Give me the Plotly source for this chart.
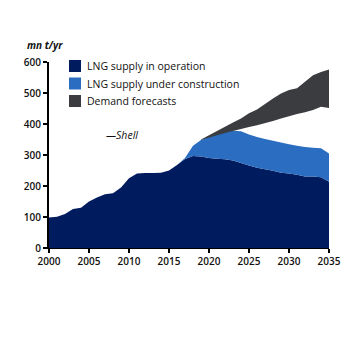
import plotly.graph_objects as go

years = list(range(2000, 2036))
operation = [98, 101, 110, 126, 130, 150, 163, 173, 177, 195, 225, 240, 242, 242, 243, 250,
             268, 287, 297, 295, 290, 288, 286, 282, 274, 266, 259, 254, 249, 243, 240, 236,
             231, 231, 228, 214]
construction = [0]*17 + [3, 33, 53, 68, 79, 89, 96, 103, 100, 99, 98, 97, 97, 95, 94, 95, 92, 94, 91]

demand_years = list(range(2019, 2036))
demand_low = [348, 357, 364, 371, 378, 384, 390, 396, 402, 410, 418, 426, 432, 438, 445, 456, 452]
demand_high = [350, 364, 378, 393, 405, 418, 435, 447, 465, 482, 498, 510, 515, 537, 557, 568, 576]

legend_labels = ["LNG supply in operation", "LNG supply under construction", "Demand forecasts"]
NAVY = "#001b5e"
BLUE = "#2b6dc0"
DARK = "#3b3c40"
colors = [NAVY, BLUE, DARK]

fig = go.Figure()
fig.add_trace(go.Scatter(x=years, y=operation, stackgroup="s", mode="none",
                         fillcolor=NAVY, showlegend=False))
fig.add_trace(go.Scatter(x=years, y=construction, stackgroup="s", mode="none",
                         fillcolor=BLUE, showlegend=False))
fig.add_trace(go.Scatter(x=demand_years, y=demand_low, mode="lines",
                         line=dict(width=0, color=DARK), showlegend=False))
fig.add_trace(go.Scatter(x=demand_years, y=demand_high, mode="lines", fill="tonexty",
                         line=dict(width=0, color=DARK), fillcolor=DARK, showlegend=False))

W = 354
L, R, T, B = 49, 25, 62, 106
pw, ph = W - L - R, W - T - B

def px(x):
    return (x - L) / pw

def py(y):
    return (W - B - y) / ph

font = "Open Sans, DejaVu Sans, sans-serif"
shapes = []
annotations = []
rows = [66, 83.5, 101]
for lab, col, yc in zip(legend_labels, colors, rows):
    shapes.append(dict(type="rect", xref="paper", yref="paper",
                       x0=px(69), x1=px(81), y0=py(yc + 6), y1=py(yc - 6),
                       fillcolor=col, line=dict(width=0)))
    annotations.append(dict(text=lab, xref="paper", yref="paper", x=px(85), y=py(yc),
                            xanchor="left", yanchor="middle", showarrow=False,
                            font=dict(family=font, size=10.5, color="#111")))
annotations.append(dict(text="<i>—Shell</i>", xref="paper", yref="paper", x=px(104), y=py(135),
                        xanchor="left", yanchor="middle", showarrow=False,
                        font=dict(family=font, size=10.5, color="#111")))
annotations.append(dict(text="<b><i>mn t/yr</i></b>", xref="paper", yref="paper", x=px(25), y=py(45),
                        xanchor="left", yanchor="middle", showarrow=False,
                        font=dict(family=font, size=10, color="#111")))

fig.update_layout(
    width=W, height=W, margin=dict(l=L, r=R, t=T, b=B),
    paper_bgcolor="white", plot_bgcolor="white",
    shapes=shapes, annotations=annotations, showlegend=False,
    xaxis=dict(range=[2000, 2035], tickvals=[2000, 2005, 2010, 2015, 2020, 2025, 2030, 2035],
               showgrid=False, zeroline=False, showline=True, linecolor="black", linewidth=1,
               ticks="outside", ticklen=4, tickwidth=1.5, tickcolor="black",
               tickfont=dict(family=font, size=10, color="#111", weight=600)),
    yaxis=dict(range=[0, 600], tickvals=[0, 100, 200, 300, 400, 500, 600],
               showgrid=False, zeroline=False, showline=True, linecolor="black", linewidth=2,
               ticks="outside", ticklen=4, tickwidth=1.5, tickcolor="black",
               tickfont=dict(family=font, size=10, color="#111", weight=600)),
)
fig.write_html("out.html")
